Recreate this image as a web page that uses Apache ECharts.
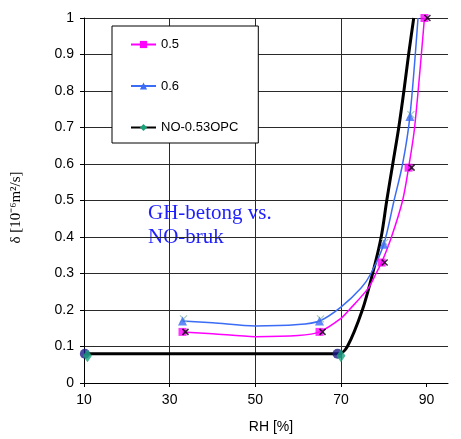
<!DOCTYPE html>
<html>
<head>
<meta charset="utf-8">
<script src="https://cdn.jsdelivr.net/npm/echarts@6/dist/echarts.min.js"></script>
<style>
html,body{margin:0;padding:0;background:#fff;}
#chart{width:461px;height:439px;}
</style>
</head>
<body>
<div id="chart"></div>
<script>
// ---- data ----
const xTicks = [10, 30, 50, 70, 90];
const names = ['0.5', '0.6', 'NO-0.53OPC'];

// measured points (markers)
const mk05RH = [33, 65, 79.5, 85.8, 89.5];
const mk05D = [0.14, 0.14, 0.33, 0.59, 1.0];
const mk06RH = [33, 65, 80.0, 86.1];
const mk06D = [0.17, 0.17, 0.38, 0.73];
const circRH = [10.2, 69.2];
const circD = [0.08, 0.08];
const diamRH = [10.8, 70.0];
const diamD = [0.075, 0.075];

// fitted curves
const curve05RH = [33, 40, 50, 60, 65, 70, 71.9, 76.4, 78.2, 79.5, 81.8, 84.4, 85.8, 87.2, 89.5];
const curve05D = [0.14, 0.135, 0.127, 0.13, 0.14, 0.177, 0.2, 0.26, 0.3, 0.33, 0.4, 0.5, 0.59, 0.7, 1.0];
const curve06RH = [33, 40, 50, 60, 65, 70, 74.7, 77.0, 80.0, 82.4, 84.4, 86.1, 88.0];
const curve06D = [0.17, 0.165, 0.156, 0.16, 0.17, 0.208, 0.26, 0.3, 0.38, 0.5, 0.6, 0.73, 1.0];
const curveNORH = [10, 69.5, 71.5, 75.0, 77.4, 79.4, 80.7, 82.1, 83.5, 84.7, 85.8, 87.0];
const curveNOD = [0.08, 0.08, 0.1, 0.2, 0.3, 0.4, 0.5, 0.6, 0.7, 0.8, 0.9, 1.0];

const zip = (a, b) => a.map((v, i) => [v, b[i]]);
const xPath = 'path://M0,0L10,10M10,0L0,10';

const chart = echarts.init(document.getElementById('chart'), null, {renderer: 'canvas'});
const font = 'Liberation Sans, Arial, sans-serif';
const MAG = '#ff00ff', BLUE = '#3a6cf5', GREEN = '#1aa37a';

chart.setOption({
  animation: false,
  backgroundColor: '#fff',
  grid: {left: 84, right: 13, top: 18, bottom: 53},
  xAxis: {
    type: 'value', min: 10, max: 95, interval: 20,
    name: 'RH [%]', nameLocation: 'middle', nameGap: 37,
    nameTextStyle: {fontFamily: font, fontSize: 14, color: '#000', padding: [0, 0, 0, 10]},
    axisLine: {show: true, lineStyle: {color: '#000', width: 1}},
    axisTick: {show: true, length: 4, lineStyle: {color: '#000'}, customValues: xTicks},
    axisLabel: {fontFamily: font, fontSize: 14, color: '#000', margin: 10, customValues: xTicks},
    splitLine: {show: true, showMaxLine: false, lineStyle: {color: '#2a2a2a', width: 1}}
  },
  yAxis: {
    type: 'value', min: 0, max: 1, interval: 0.1,
    name: 'δ [10⁻⁶m²/s]', nameLocation: 'middle', nameGap: 60, nameRotate: 90,
    nameTextStyle: {fontFamily: 'Liberation Serif, Times New Roman, serif', fontSize: 15, color: '#000',
      padding: [0, 14, 0, 0]},
    axisLine: {show: true, lineStyle: {color: '#000', width: 1}},
    axisTick: {show: true, length: 4, lineStyle: {color: '#000'}},
    axisLabel: {fontFamily: font, fontSize: 14, color: '#000', margin: 10},
    splitLine: {show: true, lineStyle: {color: '#2a2a2a', width: 1}}
  },
  legend: {
    orient: 'vertical', left: 112, top: 26,
    data: names,
    backgroundColor: '#fff', borderColor: '#000', borderWidth: 1, borderRadius: 0,
    padding: [12, 20, 9, 18], itemGap: 28.5, itemWidth: 25, itemHeight: 9,
    textStyle: {fontFamily: font, fontSize: 13, color: '#000'}
  },
  graphic: [{
    type: 'group', left: 137, top: 195, z: 50,
    children: [
      {type: 'rect', shape: {x: 0, y: 0, width: 153, height: 73}, style: {fill: '#fff'}},
      {type: 'text', x: 11, y: 6, style: {text: 'GH-betong vs.\nNO-bruk', fill: '#1f1fff',
        font: '21px "Liberation Serif", "Times New Roman", serif', lineHeight: 24}}
    ]
  }],
  series: [
    {
      name: '0.5', type: 'line', smooth: 0.3, data: zip(curve05RH, curve05D),
      showSymbol: false, symbol: 'rect', symbolSize: 8, z: 4,
      lineStyle: {color: MAG, width: 1.5}, itemStyle: {color: MAG}
    },
    {
      name: '0.6', type: 'line', smooth: 0.3, data: zip(curve06RH, curve06D),
      showSymbol: false, symbol: 'triangle', symbolSize: 9, z: 4,
      lineStyle: {color: BLUE, width: 1.5}, itemStyle: {color: BLUE}
    },
    {
      name: 'NO-0.53OPC', type: 'line', smooth: 0.3, data: zip(curveNORH, curveNOD),
      showSymbol: false, symbol: 'diamond', symbolSize: 9, z: 3,
      lineStyle: {color: '#000', width: 3}, itemStyle: {color: GREEN}
    },
    {
      type: 'scatter', data: zip(mk06RH, mk06D), symbol: xPath, symbolSize: 7,
      symbolOffset: [1, -2], z: 5, silent: true,
      itemStyle: {color: 'none', borderColor: '#8fbfa8', borderWidth: 1.2}
    },
    {
      type: 'scatter', data: zip(mk06RH, mk06D), symbol: 'triangle', symbolSize: 9, z: 6,
      silent: true, itemStyle: {color: BLUE}
    },
    {
      type: 'scatter', data: zip(mk05RH, mk05D), symbol: 'rect', symbolSize: 8, z: 6,
      silent: true, itemStyle: {color: MAG}
    },
    {
      type: 'scatter', data: zip(mk05RH, mk05D), symbol: xPath, symbolSize: 6,
      symbolOffset: [3, 0], z: 7, silent: true,
      itemStyle: {color: 'none', borderColor: '#000', borderWidth: 1.5}
    },
    {
      type: 'scatter', data: zip(circRH, circD), symbol: 'circle', symbolSize: 10, z: 6,
      silent: true, itemStyle: {color: '#1c1c8a'}
    },
    {
      type: 'scatter', data: zip(diamRH, diamD), symbol: 'diamond', symbolSize: [9, 13], z: 7,
      silent: true, itemStyle: {color: GREEN}
    }
  ]
});
</script>
</body>
</html>
